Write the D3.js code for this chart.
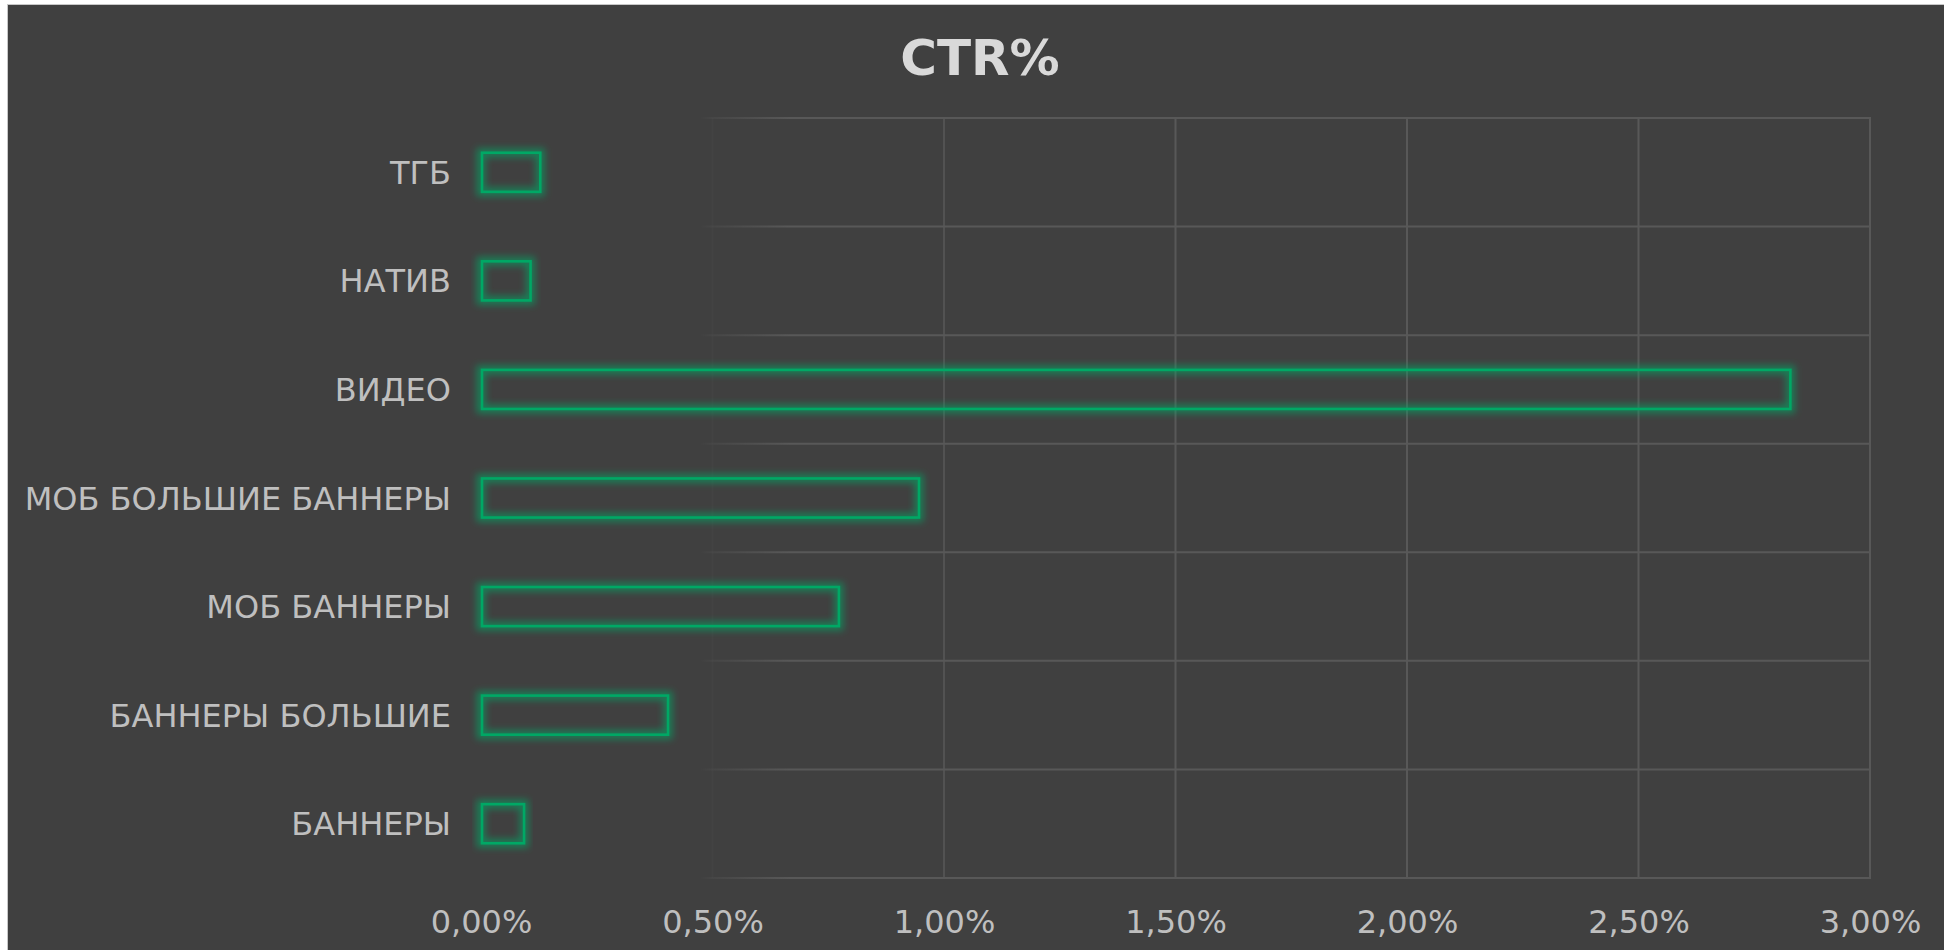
<!DOCTYPE html>
<html>
<head>
<meta charset="utf-8">
<script src="https://cdn.jsdelivr.net/npm/d3@7"></script>
<style>
  html, body { margin: 0; padding: 0; background: #ffffff; }
  svg { display: block; }
</style>
</head>
<body>
<svg id="chart" width="1944" height="950"></svg>
<script>
const title = "CTR%";
const categories = ["ТГБ", "НАТИВ", "ВИДЕО", "МОБ БОЛЬШИЕ БАННЕРЫ", "МОБ БАННЕРЫ", "БАННЕРЫ БОЛЬШИЕ", "БАННЕРЫ"];
const ctrValues = [0.00128, 0.00107, 0.02828, 0.00946, 0.00773, 0.00404, 0.00093];
const xTicks = [0, 0.005, 0.01, 0.015, 0.02, 0.025, 0.03];

const W = 1944, H = 950;
const plot = { left: 481, right: 1870, top: 118, bottom: 878 };
const green = "#00a865";
const font = "'DejaVu Sans', Verdana, sans-serif";

const svg = d3.select("#chart");
const defs = svg.append("defs");

// glow filter
const glow = defs.append("filter").attr("id", "glow")
  .attr("x", "-20%").attr("y", "-60%").attr("width", "140%").attr("height", "220%");
glow.append("feGaussianBlur").attr("in", "SourceGraphic").attr("stdDeviation", 3.5);

// fade gradient for gridlines (they fade out toward the left)
const grad = defs.append("linearGradient").attr("id", "gridFade")
  .attr("gradientUnits", "userSpaceOnUse")
  .attr("x1", plot.left).attr("x2", plot.right).attr("y1", 0).attr("y2", 0);
const fx = v => (v - plot.left) / (plot.right - plot.left);
grad.append("stop").attr("offset", 0).attr("stop-color", "#585858").attr("stop-opacity", 0);
grad.append("stop").attr("offset", fx(700)).attr("stop-color", "#585858").attr("stop-opacity", 0);
grad.append("stop").attr("offset", fx(712)).attr("stop-color", "#585858").attr("stop-opacity", 0.25);
grad.append("stop").attr("offset", fx(790)).attr("stop-color", "#585858").attr("stop-opacity", 1);
grad.append("stop").attr("offset", 1).attr("stop-color", "#585858").attr("stop-opacity", 1);

// chart background
svg.append("rect").attr("x", 7.5).attr("y", 4.5).attr("width", W - 7).attr("height", H - 4)
  .attr("fill", "#404040").attr("stroke", "#c8c8c8").attr("stroke-width", 1);

const x = d3.scaleLinear().domain([0, 0.03]).range([plot.left, plot.right]);
const y = d3.scaleBand().domain(categories).range([plot.top, plot.bottom])
  .paddingInner(0.64).paddingOuter(0.32);

const locale = d3.formatLocale({ decimal: ",", thousands: " ", grouping: [3], currency: ["", ""] });
const fmt = locale.format(".2%");

// gridlines
const grid = svg.append("g").attr("class", "grid");
const step = y.step();
const bounds = d3.range(categories.length + 1).map(i => plot.top + i * step);
grid.selectAll("line.h").data(bounds).join("line").attr("class", "h")
  .attr("x1", plot.left).attr("x2", plot.right + 1)
  .attr("y1", d => d).attr("y2", d => d)
  .attr("stroke", "url(#gridFade)").attr("stroke-width", 2);
grid.selectAll("line.v").data(xTicks.slice(1)).join("line").attr("class", "v")
  .attr("x1", d => x(d)).attr("x2", d => x(d))
  .attr("y1", plot.top).attr("y2", plot.bottom)
  .attr("stroke", "#585858").attr("stroke-width", 2)
  .attr("stroke-opacity", d => d === 0.005 ? 0.12 : (d === 0.01 ? 0.75 : 1));

// x axis (labels only)
const xAxis = svg.append("g").attr("transform", `translate(0,${plot.bottom})`)
  .call(d3.axisBottom(x).tickValues(xTicks).tickFormat(fmt).tickSize(0).tickPadding(55));
xAxis.select(".domain").remove();
xAxis.selectAll("text").attr("fill", "#bfbfbf").attr("font-family", font)
  .attr("font-size", 32).attr("dy", 0);

// y axis labels
const yAxis = svg.append("g").attr("transform", `translate(${plot.left},0)`)
  .call(d3.axisLeft(y).tickSize(0).tickPadding(30));
yAxis.select(".domain").remove();
yAxis.selectAll("text").attr("fill", "#bfbfbf").attr("font-family", font)
  .attr("font-size", 32).attr("dy", "0.36em");

// bars: glow then crisp outline
const bars = svg.append("g");
bars.selectAll("rect.glow").data(categories).join("rect").attr("class", "glow")
  .attr("x", x(0)).attr("y", d => y(d))
  .attr("width", (d, i) => x(ctrValues[i]) - x(0)).attr("height", y.bandwidth())
  .attr("fill", "none").attr("stroke", green).attr("stroke-width", 9)
  .attr("stroke-opacity", 0.6).attr("filter", "url(#glow)");
bars.selectAll("rect.bar").data(categories).join("rect").attr("class", "bar")
  .attr("x", x(0) + 1).attr("y", d => y(d))
  .attr("width", (d, i) => x(ctrValues[i]) - x(0) - 1).attr("height", y.bandwidth())
  .attr("fill", "none").attr("stroke", green).attr("stroke-width", 2.6);

// title
svg.append("text").attr("x", 980).attr("y", 75).attr("text-anchor", "middle")
  .attr("font-family", font).attr("font-weight", "bold").attr("font-size", 50)
  .attr("fill", "#d9d9d9").text(title);
</script>
</body>
</html>
